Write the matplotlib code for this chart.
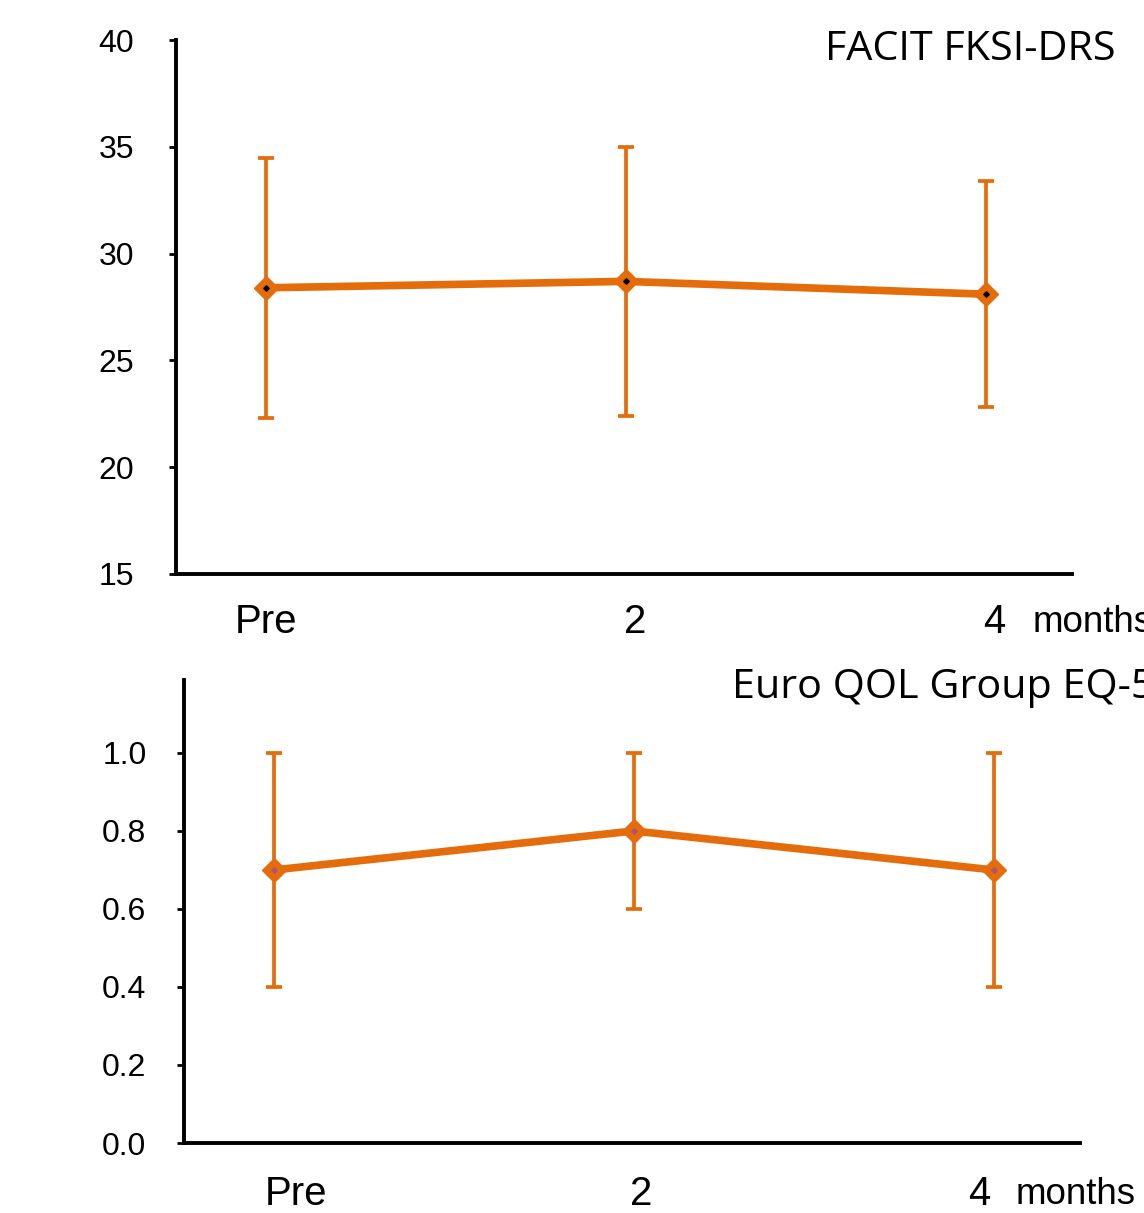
import matplotlib
matplotlib.use("Agg")
import matplotlib.pyplot as plt

# time points
categories = ["Pre", "2", "4"]

# FACIT FKSI-DRS
facit_mean = [28.4, 28.7, 28.1]
facit_low = [22.3, 22.4, 22.8]
facit_high = [34.5, 35.0, 33.4]

# Euro QOL Group EQ-5D
eq_mean = [0.7, 0.8, 0.7]
eq_low = [0.4, 0.6, 0.4]
eq_high = [1.0, 1.0, 1.0]

orange = '#E46C0A'
plt.rcParams['font.family'] = ['Liberation Sans', 'DejaVu Sans']

fig = plt.figure(figsize=(11.44, 12.13), dpi=100)
ax1 = fig.add_axes([0.1538, 0.5268, 0.7832, 0.4402])
ax2 = fig.add_axes([0.1608, 0.0577, 0.7832, 0.3817])


def draw(ax, mean, low, high, dot_color):
    x = list(range(len(mean)))
    err = [[m - l for m, l in zip(mean, low)], [h - m for m, h in zip(mean, high)]]
    ax.errorbar(x, mean, yerr=err, fmt='none', ecolor=orange, elinewidth=2.7,
                capsize=6, capthick=2.7, zorder=2)
    ax.plot(x, mean, color=orange, lw=5.5, marker='D', ms=12.5, mfc=orange,
            mec=orange, zorder=3, solid_capstyle='butt')
    ax.plot(x, mean, ls='none', marker='D', ms=2.8, color=dot_color, zorder=4)
    ax.set_xlim(-0.25, 2.24)
    for s in ['top', 'right']:
        ax.spines[s].set_visible(False)
    for s in ['left', 'bottom']:
        ax.spines[s].set_linewidth(2.8)
        ax.spines[s].set_color('black')
    ax.set_xticks([])
    ax.tick_params(axis='y', length=5, width=2, labelsize=23, direction='out')


draw(ax1, facit_mean, facit_low, facit_high, 'black')
ax1.set_ylim(15, 40)
ax1.set_yticks([15, 20, 25, 30, 35, 40])
ax1.tick_params(axis='y', pad=25)

draw(ax2, eq_mean, eq_low, eq_high, '#B0507A')
ax2.set_ylim(0, 1.187)
ax2.set_yticks([0.0, 0.2, 0.4, 0.6, 0.8, 1.0])
ax2.set_yticklabels(['%.1f' % v for v in ax2.get_yticks()])
ax2.tick_params(axis='y', pad=22)

# x labels written as free text under the axis
offs1 = [0.0, 0.025, 0.025]
for i, c in enumerate(categories):
    ax1.text(i + offs1[i], 12.75, c, fontsize=29, ha='center', va='center', clip_on=False)
ax1.text(2.13, 12.75, "months", fontsize=26.5, ha='left', va='center', clip_on=False)

offs2 = [0.06, 0.02, -0.04]
for i, c in enumerate(categories):
    ax2.text(i + offs2[i], -0.132, c, fontsize=29, ha='center', va='center', clip_on=False)
ax2.text(2.06, -0.132, "months", fontsize=26.5, ha='left', va='center', clip_on=False)

# panel titles
fig.text(1116 / 1144, 1 - 50 / 1213, "FACIT FKSI-DRS", fontsize=29.8, family='Open Sans',
         ha='right', va='center')
fig.text(732 / 1144, 1 - 688 / 1213, "Euro QOL Group EQ-5D", fontsize=29.8, family='Open Sans',
         ha='left', va='center')

fig.savefig("out.png", dpi=100)
